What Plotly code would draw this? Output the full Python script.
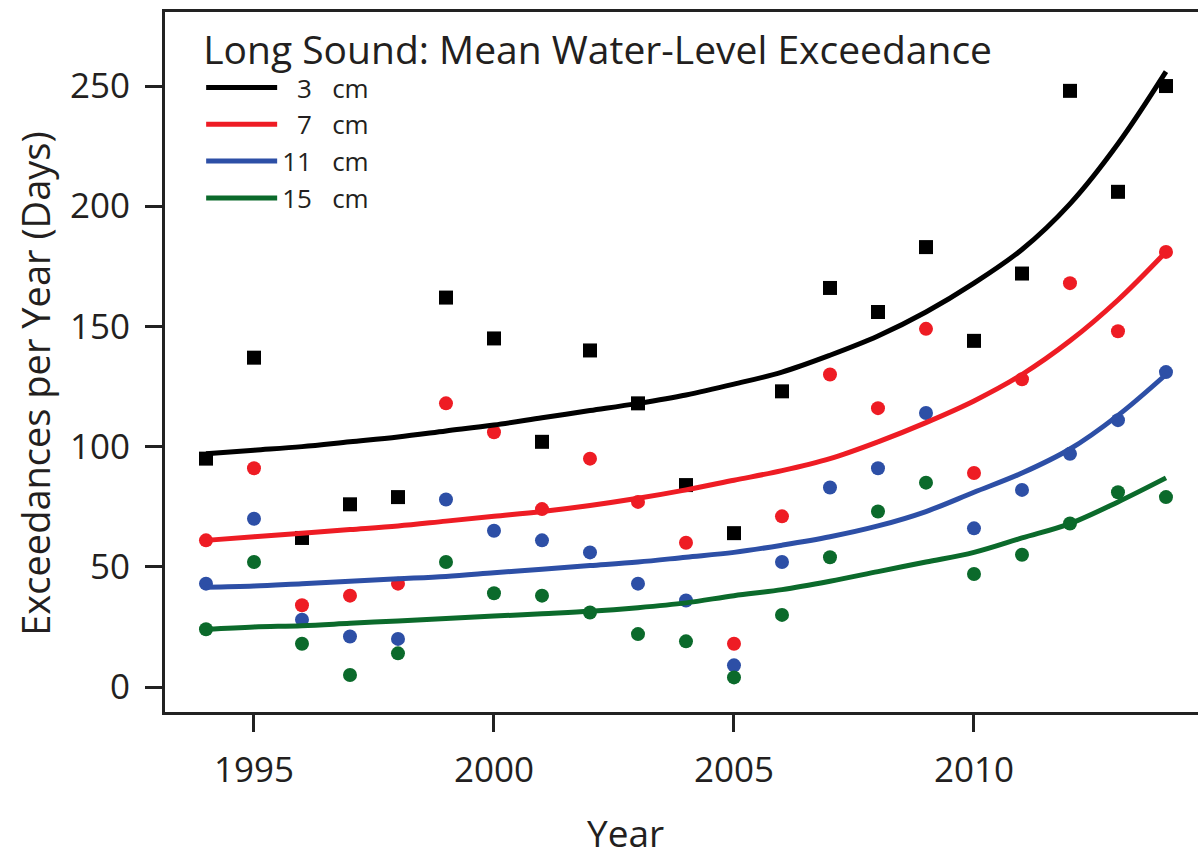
import plotly.graph_objects as go

years = list(range(1994, 2015))

obs_3cm = [95, 137, 62, 76, 79, 162, 145, 102, 140, 118, 84, 64, 123, 166, 156, 183, 144, 172, 248, 206, 250]
obs_7cm = [61, 91, 34, 38, 43, 118, 106, 74, 95, 77, 60, 18, 71, 130, 116, 149, 89, 128, 168, 148, 181]
obs_11cm = [43, 70, 28, 21, 20, 78, 65, 61, 56, 43, 36, 9, 52, 83, 91, 114, 66, 82, 97, 111, 131]
obs_15cm = [24, 52, 18, 5, 14, 52, 39, 38, 31, 22, 19, 4, 30, 54, 73, 85, 47, 55, 68, 81, 79]

fit_3cm = [97, 98.5, 100, 102, 104, 106.5, 109, 112, 115, 118, 121.5, 126, 131, 138, 146, 156, 168, 182, 201, 226, 256]
fit_7cm = [61, 62.5, 64, 65.5, 67, 69, 71, 73, 75.5, 78.5, 82, 86, 90, 95, 102, 110, 119, 130, 144, 161, 181]
fit_11cm = [41.5, 42, 43, 44, 45, 46, 47.5, 49, 50.5, 52, 54, 56, 59, 62.5, 67, 73, 81, 89, 99, 113, 130]
fit_15cm = [24, 25, 25.5, 26.5, 27.5, 28.5, 29.5, 30.5, 31.5, 33, 35, 38, 40.5, 44, 48, 52, 56, 62, 68, 77, 87]

series_names = ["\u20073\u00a0\u00a0\u00a0cm", "\u20077\u00a0\u00a0\u00a0cm", "11\u00a0\u00a0\u00a0cm", "15\u00a0\u00a0\u00a0cm"]
colors = ["#000000", "#ee1c24", "#2d4fa6", "#0b6a2b"]
symbols = ["square", "circle", "circle", "circle"]
obs = [obs_3cm, obs_7cm, obs_11cm, obs_15cm]
fits = [fit_3cm, fit_7cm, fit_11cm, fit_15cm]

x_ticks = [1995, 2000, 2005, 2010]
y_ticks = [0, 50, 100, 150, 200, 250]

legend_title = "Long Sound: Mean Water-Level Exceedance"
x_title = "Year"
y_title = "Exceedances per Year (Days)"

FONT = "Open Sans"
TXT = "#231f20"

fig = go.Figure()

for o, c, s in zip(obs, colors, symbols):
    fig.add_trace(go.Scatter(
        x=years, y=o, mode="markers", showlegend=False,
        marker=dict(symbol=s, color=c, size=14, line=dict(width=0)),
        hoverinfo="x+y",
    ))

for f, c, n in zip(fits, colors, series_names):
    fig.add_trace(go.Scatter(
        x=years, y=f, mode="lines", name=n,
        line=dict(color=c, width=5, shape="spline", smoothing=1.0),
    ))

fig.update_layout(
    width=1198, height=859,
    margin=dict(l=165, r=0, t=12, b=147),
    paper_bgcolor="white", plot_bgcolor="white",
    font=dict(family=FONT, color=TXT, size=30),
    legend=dict(
        x=0.035, y=0.998, xanchor="left", yanchor="top",
        bgcolor="rgba(0,0,0,0)", borderwidth=0,
        title=dict(text=legend_title, font=dict(size=39, family=FONT, color=TXT)),
        font=dict(size=26, family=FONT, color=TXT),
        itemwidth=71, tracegroupgap=0,
    ),
    xaxis=dict(
        range=[1993.146, 2014.667],
        tickvals=x_ticks, ticktext=[str(v) for v in x_ticks],
        ticks="outside", ticklen=17, tickwidth=3, tickcolor="#222",
        showline=True, linewidth=3, linecolor="#222", mirror=True,
        showgrid=False, zeroline=False,
        tickfont=dict(size=35, family=FONT, color=TXT),
        ticklabelstandoff=8,
        automargin=False,
    ),
    yaxis=dict(
        range=[-10.4, 280.8],
        tickvals=y_ticks, ticktext=[str(v) for v in y_ticks],
        ticks="outside", ticklen=17, tickwidth=3, tickcolor="#222",
        showline=True, linewidth=3, linecolor="#222", mirror=False,
        showgrid=False, zeroline=False,
        tickfont=dict(size=35, family=FONT, color=TXT),
        ticklabelstandoff=8,
        automargin=False,
    ),
    annotations=[
        dict(text=x_title, xref="paper", yref="paper", x=0.446, y=-0.172,
             xanchor="center", yanchor="middle", showarrow=False,
             font=dict(size=37, family=FONT, color=TXT)),
        dict(text=y_title, xref="paper", yref="paper", x=-0.1258, y=0.469,
             xanchor="center", yanchor="middle", showarrow=False, textangle=-90,
             font=dict(size=38, family=FONT, color=TXT)),
    ],
)

fig.write_html("out.html")
